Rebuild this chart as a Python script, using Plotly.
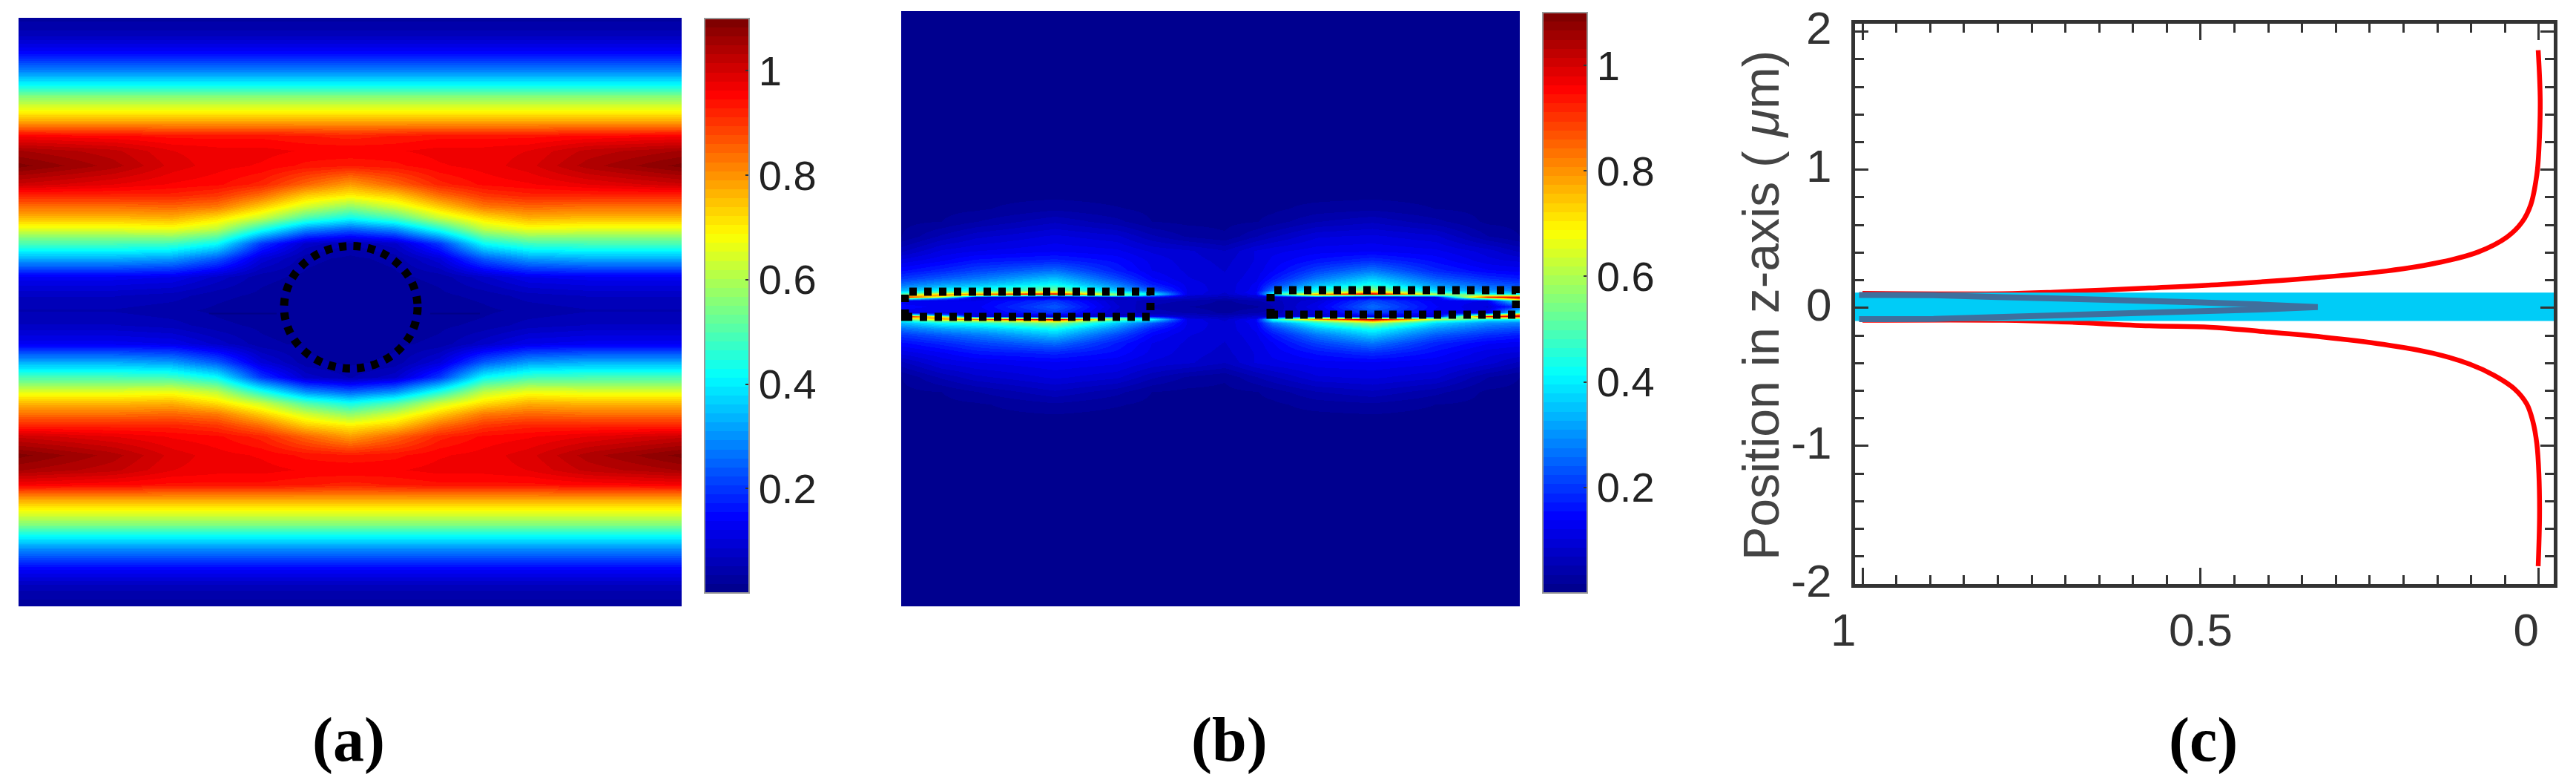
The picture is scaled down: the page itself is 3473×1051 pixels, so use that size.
import numpy as np
import plotly.graph_objects as go

W, H = 3473, 1051

# panel (a): field along half a column set, rows are distance from the mid line
a_cols = [0, 60, 120, 180, 240, 320, 447]
a_rows = [0, 20, 45, 70, 90, 110, 125, 140, 155, 170, 195, 215, 235, 252, 268, 289, 305, 325, 346, 372, 400]
a_col0 = [.02, .02, .02, .03, .05, .25, .43, .57, .70, .79, .93, .96, .92, .80, .69, .55, .41, .27, .15, .06, .02]
a_col1 = [.02, .02, .03, .04, .08, .30, .50, .64, .74, .85, .94, .96, .93, .80, .69, .55, .41, .27, .15, .06, .02]
a_col2 = [.02, .03, .04, .10, .20, .45, .63, .74, .84, .92, .96, .97, .94, .80, .69, .55, .41, .27, .15, .06, .02]
a_col3 = [.03, .04, .08, .24, .42, .62, .72, .83, .90, .95, .97, .97, .94, .80, .69, .55, .41, .27, .15, .06, .02]
a_col4 = [.04, .06, .12, .31, .48, .67, .77, .85, .92, .96, .99, .98, .94, .80, .69, .55, .41, .27, .15, .06, .02]
a_col5 = [.05, .07, .13, .33, .49, .66, .76, .84, .92, .98, 1.04, 1.02, .95, .80, .69, .55, .41, .27, .15, .06, .02]
a_col6 = [.05, .07, .13, .33, .49, .66, .76, .84, .92, 1.01, 1.09, 1.05, .96, .80, .69, .55, .41, .27, .15, .06, .02]

# panel (b): field by column, rows are distance from the slab mid line
b_cols = [0, 54, 100, 207, 290, 338, 385, 436, 478, 500, 560, 635, 720, 790, 834]
b_rows = [0, 8, 11, 13, 15, 17, 19, 22, 30, 38, 49, 62, 75, 95, 115, 132, 145, 170, 404]
b_col0 = [.15, .12, .50, 1.0, .70, .50, .42, .34, .26, .20, .15, .11, .065, .017, .012, .012, .012, .012, .01]
b_col1 = [.13, .12, .25, .60, .80, .75, .55, .42, .31, .24, .18, .135, .107, .055, .017, .012, .012, .012, .01]
b_col2 = [.13, .12, .10, .10, .55, .85, .60, .44, .34, .27, .21, .16, .12, .08, .033, .014, .012, .012, .01]
b_col3 = [.24, .20, .14, .08, .35, 1.02, .75, .55, .42, .35, .26, .18, .135, .107, .065, .03, .017, .012, .01]
b_col4 = [.09, .08, .06, .10, .50, .55, .45, .36, .28, .22, .17, .15, .125, .09, .04, .019, .012, .012, .01]
b_col5 = [.05, .06, .08, .14, .30, .42, .35, .24, .17, .14, .12, .115, .10, .055, .017, .012, .012, .012, .01]
b_col6 = [.035, .05, .07, .08, .09, .12, .12, .12, .115, .105, .10, .095, .09, .032, .012, .012, .012, .012, .01]
b_col7 = [.025, .03, .05, .06, .07, .08, .085, .09, .09, .09, .085, .08, .07, .02, .012, .012, .012, .012, .01]
b_col8 = [.03, .05, .07, .09, .10, .13, .14, .13, .125, .115, .11, .105, .105, .05, .016, .012, .012, .012, .01]
b_col9 = [.05, .06, .07, .09, .25, .42, .38, .27, .20, .16, .135, .125, .115, .065, .024, .013, .012, .012, .01]
b_col10 = [.12, .10, .08, .12, .55, .80, .55, .44, .34, .27, .21, .16, .13, .10, .05, .024, .014, .012, .01]
b_col11 = [.26, .22, .16, .09, .40, 1.04, .82, .58, .43, .36, .27, .19, .135, .107, .065, .03, .017, .012, .01]
b_col12 = [.14, .13, .11, .10, .45, .62, .48, .38, .30, .24, .18, .15, .125, .09, .04, .017, .012, .012, .01]
b_col13 = [.10, .12, .50, .95, .65, .45, .36, .30, .24, .19, .14, .11, .095, .035, .013, .012, .012, .012, .01]
b_col14 = [.20, .45, .90, 1.0, .65, .42, .35, .28, .22, .17, .13, .10, .065, .017, .012, .012, .012, .012, .01]

# panel (c): red field envelope, cyan slab and grey-blue profile
top_x = [1.0, .792, .711, .576, .468, .333, .225, .144, .09, .047, .025, .012, .003, 0, -.002, .001]
top_y = [.105, .103, .115, .144, .17, .217, .267, .332, .404, .513, .62, .747, .964, 1.144, 1.5, 1.866]
bot_x = [1.0, .792, .711, .576, .486, .412, .321, .23, .157, .102, .066, .036, .018, .009, .003, 0, -.001, .001]
bot_y = [-.09, -.09, -.10, -.13, -.14, -.17, -.21, -.264, -.328, -.408, -.489, -.587, -.695, -.82, -.984, -1.2, -1.5, -1.87]
slab_x = [1.011, -.022, -.022, 1.011, 1.011]
slab_y = [.11, .11, -.095, -.095, .11]
prof_x = [1.005, .895, .80, .67, .59, .50, .412, .327, .412, .50, .59, .67, .80, .895, 1.005]
prof_y = [.093, .092, .079, .066, .054, .04, .024, .006, -.012, -.026, -.04, -.052, -.066, -.08, -.082]

cbar_ticks = [.2, .4, .6, .8, 1]
cbar_text = ["0.2", "0.4", "0.6", "0.8", "1"]
c_xticks = [1, .5, 0]
c_xtext = ["1\u00a0\u00a0\u00a0", "0.5", "0\u00a0\u00a0"]
c_yticks = [-2, -1, 0, 1, 2]
c_ytext = ["-2", "-1", "0", "1", "2"]


def jet_stops(n=64):
    anchors = [0, .125, .375, .625, .875, 1]
    r = [0, 0, 0, 255, 255, 128]
    g = [0, 0, 255, 255, 0, 0]
    b = [143, 255, 255, 0, 0, 0]
    stops = []
    for i in range(n):
        t = i / (n - 1)
        col = "rgb(%d,%d,%d)" % (np.interp(t, anchors, r), np.interp(t, anchors, g), np.interp(t, anchors, b))
        stops += [[i / n, col], [(i + 1) / n, col]]
    return stops


def dom_x(x0, x1):
    return [x0 / W, x1 / W]


def dom_y(y0, y1):
    return [1 - y1 / H, 1 - y0 / H]


def colorbar(left, top, bottom):
    return dict(
        x=left / W, xanchor="left", xpad=0, y=1 - bottom / H, yanchor="bottom", ypad=0,
        lenmode="pixels", len=bottom - top, thicknessmode="pixels", thickness=60,
        tickmode="array", tickvals=cbar_ticks, ticktext=cbar_text, ticks="inside", ticklen=6,
        tickwidth=2, tickcolor="#333", outlinecolor="#999", outlinewidth=2,
        tickfont=dict(family="Liberation Sans", size=56, color="#222"),
    )


JET = jet_stops()

# both field panels are stored as the upper half only and mirrored about the mid line
a_half = np.array([a_col0, a_col1, a_col2, a_col3, a_col4, a_col5, a_col6]).T
a_right = np.vstack((a_half[:0:-1], a_half))
a_z = np.hstack((a_right[:, :0:-1], a_right))
a_x = np.concatenate((-np.array(a_cols[:0:-1]), a_cols))
a_y = np.concatenate((-np.array(a_rows[:0:-1]), a_rows))

b_half = np.array([b_col0, b_col1, b_col2, b_col3, b_col4, b_col5, b_col6, b_col7, b_col8, b_col9,
                   b_col10, b_col11, b_col12, b_col13, b_col14]).T
b_z = np.vstack((b_half[:0:-1], b_half))
b_y = np.concatenate((-np.array(b_rows[:0:-1]), b_rows))

fig = go.Figure()

fig.add_trace(go.Heatmap(x=a_x, y=a_y, z=a_z, zsmooth="best", zmin=0, zmax=1.1, colorscale=JET,
                         colorbar=colorbar(950, 25, 799), xaxis="x", yaxis="y"))
fig.add_trace(go.Heatmap(x=b_cols, y=b_y, z=b_z, zsmooth="best", zmin=0, zmax=1.1, colorscale=JET,
                         colorbar=colorbar(2080, 17, 799), xaxis="x2", yaxis="y2"))

# faint seam lines either side of the hole in (a)
for seam in ([-190, -99], [108, 175]):
    fig.add_trace(go.Scatter(x=seam, y=[-5, -5], mode="lines", line=dict(color="rgba(0,0,120,.6)", width=2),
                             xaxis="x", yaxis="y", showlegend=False))

fig.add_trace(go.Scatter(x=top_x, y=top_y, mode="lines", line=dict(color="#ff0000", width=6.5, shape="spline", smoothing=1),
                         xaxis="x3", yaxis="y3", showlegend=False))
fig.add_trace(go.Scatter(x=bot_x, y=bot_y, mode="lines", line=dict(color="#ff0000", width=6.5, shape="spline", smoothing=1),
                         xaxis="x3", yaxis="y3", showlegend=False))
fig.add_trace(go.Scatter(x=slab_x, y=slab_y, mode="lines", fill="toself", fillcolor="#00ccf7", line=dict(width=0),
                         xaxis="x3", yaxis="y3", showlegend=False))
fig.add_trace(go.Scatter(x=prof_x, y=prof_y, mode="lines", line=dict(color="#3f6f9d", width=8),
                         xaxis="x3", yaxis="y3", showlegend=False))

dots = dict(color="black", width=11, dash="10px,10px")
fig.add_shape(type="circle", xref="x", yref="y", x0=-89, x1=91, y0=-79, y1=86, line=dict(color="black", width=11, dash="10px,9.5px"))
fig.add_shape(type="rect", xref="x2", yref="y2", x0=5, x1=336, y0=-14, y1=20, line=dots)
fig.add_shape(type="rect", xref="x2", yref="y2", x0=498, x1=829, y0=-11, y1=22, line=dots)

hidden = dict(visible=False, showgrid=False, zeroline=False, fixedrange=True)
frame = dict(showline=True, linecolor="#333", linewidth=5, mirror="allticks", showgrid=False, zeroline=False,
             ticks="inside", tickcolor="#333", tickwidth=3)
fig.update_layout(
    width=W, height=H, margin=dict(l=0, r=0, t=0, b=0, autoexpand=False), paper_bgcolor="white", plot_bgcolor="white",
    showlegend=False,
    xaxis=dict(domain=dom_x(25, 919), range=[-447, 447], **hidden),
    yaxis=dict(domain=dom_y(24, 817), range=[-399.5, 393.5], **hidden),
    xaxis2=dict(domain=dom_x(1215, 2049), range=[0, 834], **hidden),
    yaxis2=dict(domain=dom_y(15, 817), range=[-404, 398], **hidden),
    xaxis3=dict(domain=dom_x(2501, 3443), range=[1.011, -.022], tickmode="array", tickvals=c_xticks, ticktext=c_xtext,
                ticklen=22, ticklabelstandoff=4, tickfont=dict(family="Liberation Sans", size=62, color="#333"),
                minor=dict(dtick=.05, ticks="inside", ticklen=12, tickcolor="#333", tickwidth=3), anchor="y3", **frame),
    yaxis3=dict(domain=dom_y(31.5, 787), range=[-2, 2.06], tickmode="array", tickvals=c_yticks, ticktext=c_ytext,
                ticklen=18, ticklabelstandoff=14, ticklabelshift=-5, tickfont=dict(family="Liberation Sans", size=62, color="#333"),
                minor=dict(dtick=.2, ticks="inside", ticklen=12, tickcolor="#333", tickwidth=3), anchor="x3", **frame),
)

fig.add_annotation(text="Position in z-axis ( <i>μ</i>m)", x=2374 / W, y=1 - 412 / H, xref="paper", yref="paper",
                   textangle=-90, showarrow=False, xanchor="center", yanchor="middle",
                   font=dict(family="Liberation Sans", size=68, color="#444"))

for label, xc in (("(a)", 470), ("(b)", 1657), ("(c)", 2970)):
    fig.add_annotation(text="<b>%s</b>" % label, x=xc / W, y=1 - 997 / H, xref="paper", yref="paper", showarrow=False,
                       font=dict(family="Liberation Serif", size=84, color="black"), xanchor="center", yanchor="middle")

fig.write_html("out.html", config=dict(displayModeBar=False), post_script="document.body.style.margin='0'")
